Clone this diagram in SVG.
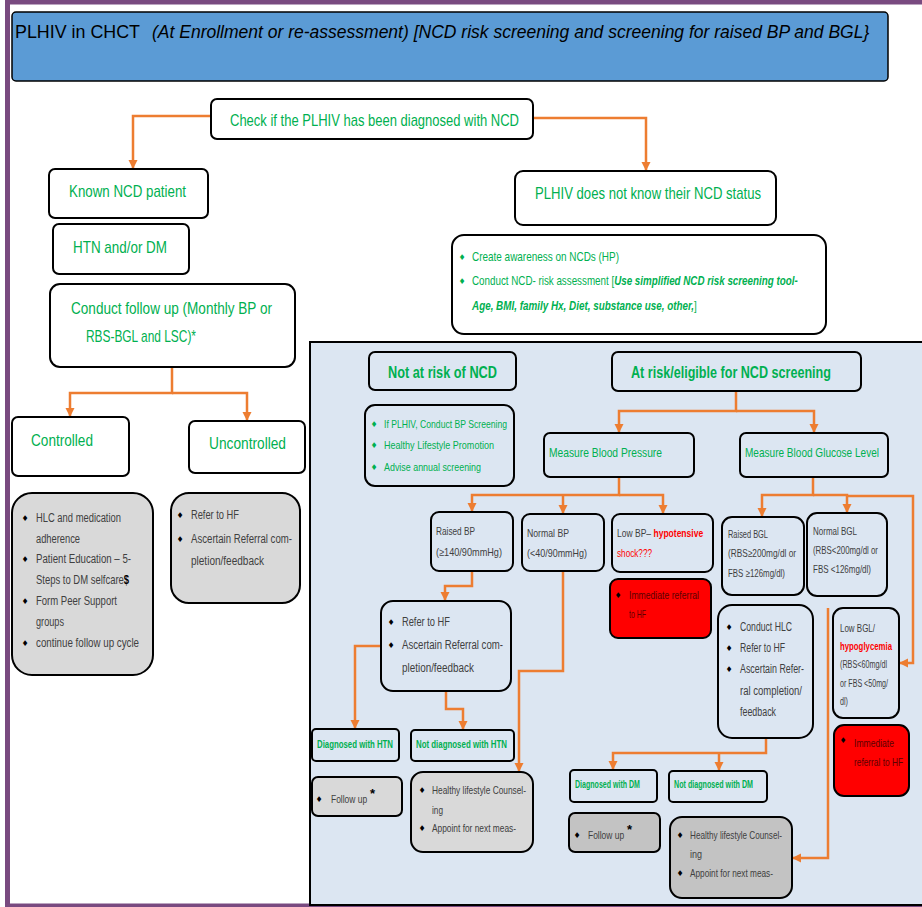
<svg xmlns="http://www.w3.org/2000/svg" width="922" height="907" viewBox="0 0 922 907">
<style>
text{font-family:"Liberation Sans",Arial,sans-serif;}
.g{fill:#00b050}
.d{fill:#404040}
.k{fill:#000}
.w{fill:#fff;stroke:#000;stroke-width:2}
.n{fill:none;stroke:#000;stroke-width:2}
.gr{fill:#d9d9d9;stroke:#000;stroke-width:2}
.gr2{fill:#c3c3c3;stroke:#000;stroke-width:2}
.rd{fill:#ff0000;stroke:#000;stroke-width:2}
.c{fill:none;stroke:#ed7d31;stroke-width:2.5}
.bu{font-family:"DejaVu Sans",sans-serif;font-size:8px;fill:#000;text-anchor:middle}
.L{font-size:17px}
.s{font-size:12px}
.xs{font-size:11px}
.b{font-weight:bold}
.i{font-style:italic}
.red{fill:#ff0000}
</style>
<defs>
<marker id="ah" markerUnits="userSpaceOnUse" markerWidth="10" markerHeight="10" refX="9" refY="4.5" orient="auto"><path d="M0,0 L9,4.5 L0,9 z" fill="#ed7d31"/></marker>
</defs>
<rect x="0" y="0" width="922" height="907" fill="#fff"/>
<rect x="7.5" y="2" width="930" height="904" fill="none" stroke="#794a80" stroke-width="5"/>
<g id="title">
<rect x="12" y="12" width="876" height="69" rx="4" fill="#5b9bd5" stroke="#000" stroke-width="1.5"/>
<text x="15" y="38" font-size="19" textLength="125" lengthAdjust="spacingAndGlyphs" class="k">PLHIV in CHCT</text>
<text transform="translate(152,38) scale(0.9,1)" x="0" y="0" font-size="19" textLength="797" lengthAdjust="spacingAndGlyphs" class="k i">(At Enrollment or re-assessment) [NCD risk screening and screening for raised BP and BGL}</text>
</g>
<rect id="panel" x="310" y="342" width="614" height="563" fill="#dce6f2" stroke="#000" stroke-width="2"/>
<g id="connectors">
<path class="c" d="M211,116 H133 V169" marker-end="url(#ah)"/>
<path class="c" d="M533,118 H646 V171" marker-end="url(#ah)"/>
<path class="c" d="M172,367 V393 H70 V417" marker-end="url(#ah)"/>
<path class="c" d="M172,393 H247 V421" marker-end="url(#ah)"/>
<path class="c" d="M736,391 V411 H619 V433" marker-end="url(#ah)"/>
<path class="c" d="M736,411 H814 V433" marker-end="url(#ah)"/>
<path class="c" d="M619,477 V495 H472 V512" marker-end="url(#ah)"/>
<path class="c" d="M563,495 V514" marker-end="url(#ah)"/>
<path class="c" d="M619,495 H663 V514" marker-end="url(#ah)"/>
<path class="c" d="M813,477 V495 H762 V517" marker-end="url(#ah)"/>
<path class="c" d="M813,495 H847 V513" marker-end="url(#ah)"/>
<path class="c" d="M847,496 H913 V663 H899" marker-end="url(#ah)"/>
<path class="c" d="M472,571 V586 H445 V601" marker-end="url(#ah)"/>
<path class="c" d="M381,646 H355 V729" marker-end="url(#ah)"/>
<path class="c" d="M446,691 V709 H463 V730" marker-end="url(#ah)"/>
<path class="c" d="M563,571 V671 H519 V772" marker-end="url(#ah)"/>
<path class="c" d="M766,738 V753 H613 V770" marker-end="url(#ah)"/>
<path class="c" d="M719,753 V771" marker-end="url(#ah)"/>
<path class="c" d="M828,608 V858 H792" marker-end="url(#ah)"/>
</g>
<g id="check">
<rect class="w" x="211" y="99" width="322" height="40" rx="6"/>
<text x="230" y="126" class="g L" textLength="289" lengthAdjust="spacingAndGlyphs">Check if the PLHIV has been diagnosed with NCD</text>
</g>
<g id="known">
<rect class="w" x="49" y="169" width="159" height="49" rx="6"/>
<text x="69" y="197" class="g L" textLength="117" lengthAdjust="spacingAndGlyphs">Known NCD patient</text>
</g>
<g id="htn">
<rect class="w" x="53" y="224" width="136" height="50" rx="6"/>
<text x="73" y="253" class="g L" textLength="94" lengthAdjust="spacingAndGlyphs">HTN and/or DM</text>
</g>
<g id="followup">
<rect class="w" x="50" y="284" width="245" height="83" rx="10"/>
<text x="71" y="314" class="g L" textLength="201" lengthAdjust="spacingAndGlyphs">Conduct follow up (Monthly BP or</text>
<text x="86" y="342" class="g L" textLength="110" lengthAdjust="spacingAndGlyphs">RBS-BGL and LSC)*</text>
</g>
<g id="controlled">
<rect class="w" x="12" y="417" width="117" height="59" rx="6"/>
<text x="31" y="446" class="g L" textLength="62" lengthAdjust="spacingAndGlyphs">Controlled</text>
</g>
<g id="uncontrolled">
<rect class="w" x="189" y="421" width="116" height="52" rx="6"/>
<text x="209" y="449" class="g L" textLength="77" lengthAdjust="spacingAndGlyphs">Uncontrolled</text>
</g>
<g id="controlled-actions">
<rect class="gr" x="12" y="493" width="141" height="182" rx="20"/>
<text class="bu" x="25" y="521">♦</text><text class="bu" x="25" y="562">♦</text><text class="bu" x="25" y="604">♦</text><text class="bu" x="25" y="646">♦</text>
<text x="36" y="522" class="d s" textLength="85" lengthAdjust="spacingAndGlyphs">HLC and medication</text>
<text x="36" y="543" class="d s" textLength="44" lengthAdjust="spacingAndGlyphs">adherence</text>
<text x="36" y="563" class="d s" textLength="95" lengthAdjust="spacingAndGlyphs">Patient Education – 5-</text>
<text transform="translate(36,584) scale(0.79,1)" x="0" y="0" class="d s">Steps to DM selfcare<tspan class="b" fill="#000">$</tspan></text>
<text x="36" y="605" class="d s" textLength="81" lengthAdjust="spacingAndGlyphs">Form Peer Support</text>
<text x="36" y="626" class="d s" textLength="28" lengthAdjust="spacingAndGlyphs">groups</text>
<text x="36" y="647" class="d s" textLength="103" lengthAdjust="spacingAndGlyphs">continue follow up cycle</text>
</g>
<g id="uncontrolled-actions">
<rect class="gr" x="171" y="493" width="129" height="110" rx="18"/>
<text class="bu" x="180" y="518">♦</text><text class="bu" x="180" y="542">♦</text>
<text x="191" y="519" class="d s" textLength="48" lengthAdjust="spacingAndGlyphs">Refer to HF</text>
<text x="191" y="543" class="d s" textLength="101" lengthAdjust="spacingAndGlyphs">Ascertain Referral com-</text>
<text x="191" y="565" class="d s" textLength="73" lengthAdjust="spacingAndGlyphs">pletion/feedback</text>
</g>
<g id="unknown-status">
<rect class="w" x="515" y="171" width="261" height="54" rx="8"/>
<text x="535" y="199" class="g L" textLength="226" lengthAdjust="spacingAndGlyphs">PLHIV does not know their NCD status</text>
</g>
<g id="awareness">
<rect class="w" x="452" y="235" width="374" height="99" rx="12"/>
<text class="bu" x="462" y="260" style="fill:#00b050">♦</text><text class="bu" x="462" y="284" style="fill:#00b050">♦</text>
<text x="472" y="261" class="g" font-size="13" textLength="147" lengthAdjust="spacingAndGlyphs">Create awareness on NCDs (HP)</text>
<text transform="translate(472,285) scale(0.755,1)" x="0" y="0" class="g" font-size="13">Conduct NCD- risk assessment [<tspan class="i b">Use simplified NCD risk screening tool-</tspan></text>
<text transform="translate(472,310) scale(0.76,1)" x="0" y="0" class="g" font-size="13"><tspan class="i b">Age, BMI, family Hx, Diet, substance use, other,</tspan>]</text>
</g>
<g id="not-at-risk">
<rect class="n" x="369" y="352" width="147" height="38" rx="6"/>
<text x="388" y="378" class="g L b" textLength="109" lengthAdjust="spacingAndGlyphs">Not at risk of NCD</text>
</g>
<g id="at-risk">
<rect class="n" x="612" y="352" width="249" height="39" rx="6"/>
<text x="631" y="378" class="g L b" textLength="200" lengthAdjust="spacingAndGlyphs">At risk/eligible for NCD screening</text>
</g>
<g id="not-at-risk-actions">
<rect class="n" x="365" y="405" width="149" height="81" rx="10"/>
<text class="bu" x="374" y="427" style="fill:#00b050">♦</text><text class="bu" x="374" y="448" style="fill:#00b050">♦</text><text class="bu" x="374" y="470" style="fill:#00b050">♦</text>
<text x="384" y="428" class="g xs" textLength="123" lengthAdjust="spacingAndGlyphs">If PLHIV, Conduct BP Screening</text>
<text x="384" y="449" class="g xs" textLength="110" lengthAdjust="spacingAndGlyphs">Healthy Lifestyle Promotion</text>
<text x="384" y="471" class="g xs" textLength="97" lengthAdjust="spacingAndGlyphs">Advise annual screening</text>
</g>
<g id="measure-bp">
<rect class="n" x="544" y="433" width="150" height="44" rx="6"/>
<text x="549" y="457" class="g" font-size="13" textLength="113" lengthAdjust="spacingAndGlyphs">Measure Blood Pressure</text>
</g>
<g id="measure-bgl">
<rect class="n" x="740" y="433" width="148" height="44" rx="6"/>
<text x="745" y="457" class="g" font-size="13" textLength="134" lengthAdjust="spacingAndGlyphs">Measure Blood Glucose Level</text>
</g>
<g id="raised-bp">
<rect class="n" x="431" y="512" width="82" height="59" rx="8"/>
<text x="436" y="535" class="d xs" textLength="39" lengthAdjust="spacingAndGlyphs">Raised BP</text>
<text x="436" y="556" class="d xs" textLength="66" lengthAdjust="spacingAndGlyphs">(≥140/90mmHg)</text>
</g>
<g id="normal-bp">
<rect class="n" x="522" y="514" width="82" height="57" rx="8"/>
<text x="527" y="537" class="d xs" textLength="42" lengthAdjust="spacingAndGlyphs">Normal BP</text>
<text x="527" y="557" class="d xs" textLength="60" lengthAdjust="spacingAndGlyphs">(&lt;40/90mmHg)</text>
</g>
<g id="low-bp">
<rect class="n" x="612" y="514" width="101" height="58" rx="8"/>
<text transform="translate(617,537) scale(0.775,1)" x="0" y="0" class="d xs">Low BP– <tspan class="red b">hypotensive</tspan></text>
<text x="617" y="557" class="red xs" textLength="35" lengthAdjust="spacingAndGlyphs">shock???</text>
</g>
<g id="low-bp-referral">
<rect class="rd" x="610" y="579" width="101" height="59" rx="8"/>
<text class="bu" x="618" y="598">♦</text>
<text x="629" y="599" class="xs" fill="#5c0000" textLength="70" lengthAdjust="spacingAndGlyphs">Immediate referral</text>
<text x="629" y="618" class="xs" fill="#5c0000" textLength="17" lengthAdjust="spacingAndGlyphs">to HF</text>
</g>
<g id="raised-bgl">
<rect class="n" x="722" y="517" width="82" height="78" rx="10"/>
<text x="728" y="538" class="d xs" textLength="40" lengthAdjust="spacingAndGlyphs">Raised BGL</text>
<text x="728" y="557" class="d xs" textLength="68" lengthAdjust="spacingAndGlyphs">(RBS≥200mg/dl or</text>
<text x="728" y="577" class="d xs" textLength="57" lengthAdjust="spacingAndGlyphs">FBS ≥126mg/dl)</text>
</g>
<g id="normal-bgl">
<rect class="n" x="807" y="513" width="80" height="83" rx="10"/>
<text x="813" y="535" class="d xs" textLength="44" lengthAdjust="spacingAndGlyphs">Normal BGL</text>
<text x="813" y="554" class="d xs" textLength="65" lengthAdjust="spacingAndGlyphs">(RBS&lt;200mg/dl or</text>
<text x="813" y="573" class="d xs" textLength="58" lengthAdjust="spacingAndGlyphs">FBS &lt;126mg/dl)</text>
</g>
<g id="refer-bp">
<rect class="n" x="381" y="601" width="130" height="90" rx="12"/>
<text class="bu" x="391" y="625">♦</text><text class="bu" x="391" y="648">♦</text>
<text x="402" y="626" class="d s" textLength="48" lengthAdjust="spacingAndGlyphs">Refer to HF</text>
<text x="402" y="649" class="d s" textLength="101" lengthAdjust="spacingAndGlyphs">Ascertain Referral com-</text>
<text x="402" y="672" class="d s" textLength="72" lengthAdjust="spacingAndGlyphs">pletion/feedback</text>
</g>
<g id="conduct-hlc">
<rect class="n" x="718" y="605" width="95" height="133" rx="14"/>
<text class="bu" x="729" y="630">♦</text><text class="bu" x="729" y="651">♦</text><text class="bu" x="729" y="672">♦</text>
<text x="740" y="631" class="d s" textLength="52" lengthAdjust="spacingAndGlyphs">Conduct HLC</text>
<text x="740" y="652" class="d s" textLength="45" lengthAdjust="spacingAndGlyphs">Refer to HF</text>
<text x="740" y="673" class="d s" textLength="64" lengthAdjust="spacingAndGlyphs">Ascertain Refer-</text>
<text x="740" y="695" class="d s" textLength="62" lengthAdjust="spacingAndGlyphs">ral completion/</text>
<text x="740" y="716" class="d s" textLength="36" lengthAdjust="spacingAndGlyphs">feedback</text>
</g>
<g id="low-bgl">
<rect class="n" x="833" y="608" width="66" height="110" rx="10"/>
<text x="840" y="632" class="d" font-size="10.5" textLength="35" lengthAdjust="spacingAndGlyphs">Low BGL/</text>
<text x="840" y="650" class="red b" font-size="10.5" textLength="52" lengthAdjust="spacingAndGlyphs">hypoglycemia</text>
<text x="840" y="668" class="d" font-size="10" textLength="47" lengthAdjust="spacingAndGlyphs">(RBS&lt;60mg/dl</text>
<text x="840" y="687" class="d" font-size="10" textLength="48" lengthAdjust="spacingAndGlyphs">or FBS &lt;50mg/</text>
<text x="840" y="705" class="d" font-size="10" textLength="8" lengthAdjust="spacingAndGlyphs">dl)</text>
</g>
<g id="low-bgl-referral">
<rect class="rd" x="834" y="725" width="75" height="71" rx="10"/>
<text class="bu" x="843" y="743">♦</text>
<text x="854" y="747" class="xs" fill="#5c0000" textLength="40" lengthAdjust="spacingAndGlyphs">Immediate</text>
<text x="854" y="766" class="xs" fill="#5c0000" textLength="49" lengthAdjust="spacingAndGlyphs">referral to HF</text>
</g>
<g id="diag-htn">
<rect class="n" x="312" y="729" width="87" height="32" rx="4"/>
<text x="317" y="748" class="g b" font-size="10.5" textLength="76" lengthAdjust="spacingAndGlyphs">Diagnosed with HTN</text>
</g>
<g id="not-diag-htn">
<rect class="n" x="411" y="730" width="103" height="31" rx="4"/>
<text x="416" y="748" class="g b" font-size="10.5" textLength="91" lengthAdjust="spacingAndGlyphs">Not diagnosed with HTN</text>
</g>
<g id="follow-htn">
<rect class="gr" x="312" y="777" width="90" height="39" rx="6"/>
<text class="bu" x="319" y="802">♦</text>
<text transform="translate(331,803) scale(0.77,1)" x="0" y="0" class="d xs">Follow up</text>
<text x="370" y="798" class="k b" font-size="13">*</text>
</g>
<g id="hl-htn">
<rect class="gr" x="411" y="772" width="122" height="80" rx="12"/>
<text class="bu" x="422" y="793">♦</text><text class="bu" x="422" y="831">♦</text>
<text x="432" y="794" class="d xs" textLength="94" lengthAdjust="spacingAndGlyphs">Healthy lifestyle Counsel-</text>
<text x="432" y="814" class="d xs" textLength="11" lengthAdjust="spacingAndGlyphs">ing</text>
<text x="432" y="832" class="d xs" textLength="84" lengthAdjust="spacingAndGlyphs">Appoint for next meas-</text>
</g>
<g id="diag-dm">
<rect class="n" x="570" y="770" width="87" height="32" rx="4"/>
<text x="575" y="788" class="g b" font-size="10" textLength="65" lengthAdjust="spacingAndGlyphs">Diagnosed with  DM</text>
</g>
<g id="not-diag-dm">
<rect class="n" x="669" y="771" width="98" height="31" rx="4"/>
<text x="674" y="788" class="g b" font-size="10" textLength="79" lengthAdjust="spacingAndGlyphs">Not diagnosed with DM</text>
</g>
<g id="follow-dm">
<rect class="gr2" x="569" y="813" width="91" height="39" rx="6"/>
<text class="bu" x="577" y="838">♦</text>
<text transform="translate(588,839) scale(0.77,1)" x="0" y="0" class="d xs">Follow up</text>
<text x="627" y="834" class="k b" font-size="13">*</text>
</g>
<g id="hl-dm">
<rect class="gr2" x="670" y="817" width="122" height="81" rx="12"/>
<text class="bu" x="680" y="838">♦</text><text class="bu" x="680" y="876">♦</text>
<text x="690" y="839" class="d xs" textLength="92" lengthAdjust="spacingAndGlyphs">Healthy lifestyle Counsel-</text>
<text x="690" y="858" class="d xs" textLength="12" lengthAdjust="spacingAndGlyphs">ing</text>
<text x="690" y="877" class="d xs" textLength="83" lengthAdjust="spacingAndGlyphs">Appoint for next meas-</text>
</g>
</svg>
